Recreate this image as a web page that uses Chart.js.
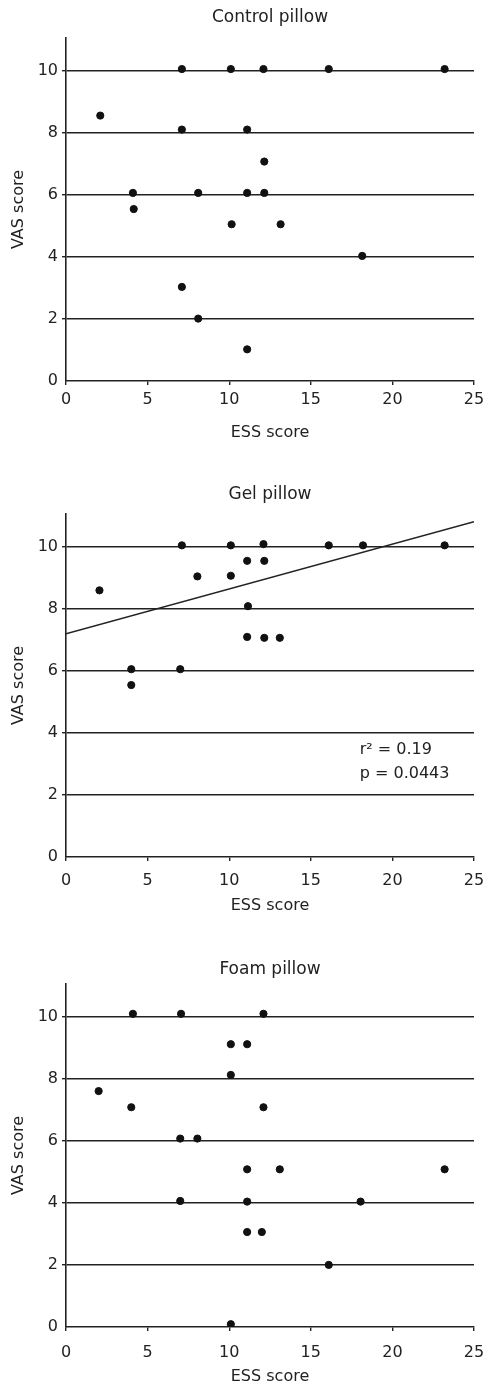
<!DOCTYPE html>
<html>
<head>
<meta charset="utf-8">
<script src="https://cdn.jsdelivr.net/npm/chart.js@4/dist/chart.umd.min.js"></script>
<style>
  html, body { margin: 0; padding: 0; background: #fff; }
  body { width: 489px; height: 1388px; position: relative; overflow: hidden; }
  .panel { position: absolute; left: 0; width: 489px; }
</style>
</head>
<body>
<div class="panel" style="top:0;height:444px"><canvas id="controlChart"></canvas></div>
<div class="panel" style="top:470px;height:447px"><canvas id="gelChart"></canvas></div>
<div class="panel" style="top:940px;height:448px"><canvas id="foamChart"></canvas></div>
<script>
// Data
const xTicks = [0, 5, 10, 15, 20, 25];
const yTicks = [0, 2, 4, 6, 8, 10];

const controlEss = [7.1, 10.1, 12.1, 16.1, 23.2, 2.1, 7.1, 11.1, 12.15, 4.1, 8.1, 11.1, 12.15, 4.15, 10.15, 13.15, 18.15, 7.1, 8.1, 11.1];
const controlVas = [10.05, 10.05, 10.05, 10.05, 10.05, 8.55, 8.1, 8.1, 7.07, 6.06, 6.06, 6.06, 6.06, 5.54, 5.05, 5.05, 4.03, 3.03, 2.01, 1.02];

const gelEss = [7.1, 10.1, 12.1, 16.1, 18.2, 23.2, 11.1, 12.15, 8.05, 10.1, 2.05, 11.15, 11.1, 12.15, 13.1, 4.0, 7.0, 4.0];
const gelVas = [10.04, 10.04, 10.08, 10.04, 10.04, 10.04, 9.54, 9.54, 9.04, 9.06, 8.59, 8.08, 7.09, 7.06, 7.06, 6.05, 6.05, 5.54];
const gelFitX = [0, 25];
const gelFitY = [7.19, 10.8];
const gelStats = ['r\u00b2 = 0.19', 'p = 0.0443'];

const foamEss = [4.1, 7.05, 12.1, 10.1, 11.1, 10.1, 2.0, 4.0, 12.1, 7.0, 8.05, 11.1, 13.1, 23.2, 7.0, 11.1, 18.05, 11.1, 12.0, 16.1, 10.1];
const foamVas = [10.09, 10.09, 10.09, 9.11, 9.11, 8.12, 7.6, 7.08, 7.08, 6.07, 6.07, 5.08, 5.08, 5.08, 4.06, 4.04, 4.04, 3.06, 3.06, 2.0, 0.09];

const FONT = "'DejaVu Sans', sans-serif";
const INK = '#222';

const toPoints = (xs, ys) => xs.map((x, i) => ({ x: x, y: ys[i] }));

// draws the r²/p note in data coordinates
const statsPlugin = {
    id: 'statsNote',
    afterDatasetsDraw(chart, args, opts) {
        if (!opts || !opts.lines) return;
        const { ctx, scales } = chart;
        ctx.save();
        ctx.font = '16px ' + FONT;
        ctx.fillStyle = INK;
        ctx.textBaseline = 'middle';
        ctx.textAlign = 'left';
        opts.lines.forEach((txt, i) => {
            ctx.fillText(txt, scales.x.getPixelForValue(opts.x), scales.y.getPixelForValue(opts.y[i]));
        });
        ctx.restore();
    }
};

function makeChart(id, title, ess, vas, layout, extra) {
    const datasets = [{
        data: toPoints(ess, vas),
        backgroundColor: '#111',
        borderColor: '#111',
        pointRadius: 3.6,
        pointHoverRadius: 3.6
    }];
    if (extra && extra.fitX) {
        datasets.push({
            type: 'line',
            data: toPoints(extra.fitX, extra.fitY),
            borderColor: INK,
            borderWidth: 1.4,
            pointRadius: 0,
            fill: false
        });
    }
    return new Chart(document.getElementById(id), {
        type: 'scatter',
        data: { datasets: datasets },
        plugins: [statsPlugin],
        options: {
            responsive: true, maintainAspectRatio: false, animation: false,
            layout: { padding: { left: 0, right: 15, top: 0, bottom: 0 } },
            plugins: {
                legend: { display: false },
                tooltip: { enabled: false },
                title: {
                    display: true, text: title, color: INK, fullSize: false,
                    font: { family: FONT, size: 17, weight: 'normal' },
                    padding: { top: layout.titleTop, bottom: layout.titleBottom }
                },
                statsNote: extra && extra.stats ? { lines: extra.stats, x: 18.0, y: [3.46, 2.69] } : {}
            },
            scales: {
                x: {
                    type: 'linear', min: 0, max: 25,
                    afterBuildTicks: s => { s.ticks = xTicks.map(v => ({ value: v })); },
                    afterFit: s => { s.height = layout.xHeight; s.paddingLeft = 0; s.paddingRight = 0; },
                    grid: { drawOnChartArea: false, drawTicks: true, tickLength: 4, color: INK, lineWidth: 1.4 },
                    border: { display: true, color: INK, width: 1.6 },
                    ticks: { color: INK, padding: layout.tickPad, font: { family: FONT, size: 16 }, maxRotation: 0 },
                    title: {
                        display: true, text: 'ESS score', color: INK,
                        font: { family: FONT, size: 16 }, padding: { top: 0, bottom: 2 }
                    }
                },
                y: {
                    type: 'linear', min: 0, max: 11.05,
                    afterBuildTicks: s => { s.ticks = yTicks.map(v => ({ value: v })); },
                    afterFit: s => { s.width = 66; },
                    grid: {
                        drawTicks: true, tickLength: 4, lineWidth: 1.4,
                        color: c => (c.tick && c.tick.value === 0 ? 'rgba(0,0,0,0)' : INK)
                    },
                    border: { display: true, color: INK, width: 1.6 },
                    ticks: { color: INK, padding: 4, font: { family: FONT, size: 16 } },
                    title: {
                        display: true, text: 'VAS score', color: INK,
                        font: { family: FONT, size: 16 }, padding: { top: 9, bottom: 0 }
                    }
                }
            }
        }
    });
}

makeChart('controlChart', 'Control pillow', controlEss, controlVas,
    { titleTop: 7.8, titleBottom: 9.8, xHeight: 63, tickPad: 5 });
makeChart('gelChart', 'Gel pillow', gelEss, gelVas,
    { titleTop: 14.8, titleBottom: 8.8, xHeight: 60, tickPad: 10 },
    { fitX: gelFitX, fitY: gelFitY, stats: gelStats });
makeChart('foamChart', 'Foam pillow', foamEss, foamVas,
    { titleTop: 19.8, titleBottom: 3.8, xHeight: 61, tickPad: 12 });
</script>
</body>
</html>
